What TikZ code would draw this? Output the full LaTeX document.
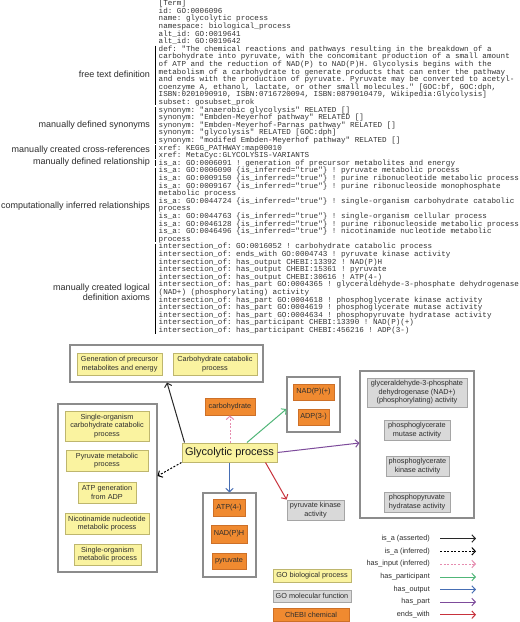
\documentclass[tikz,border=0pt]{standalone}
\usepackage{fontspec}
\setmainfont{Liberation Sans}
\setsansfont{Liberation Sans}
\setmonofont{Liberation Mono}
\usetikzlibrary{arrows.meta}
\definecolor{yfill}{RGB}{250,243,160}
\definecolor{ydraw}{RGB}{190,182,110}
\definecolor{ofill}{RGB}{240,138,48}
\definecolor{odraw}{RGB}{205,112,40}
\definecolor{gfill}{RGB}{217,217,217}
\definecolor{gdraw}{RGB}{165,165,165}
\definecolor{boxdraw}{RGB}{140,140,140}
\definecolor{txt}{RGB}{45,45,45}
\definecolor{cpink}{RGB}{230,140,175}
\definecolor{cgreen}{RGB}{80,182,120}
\definecolor{cblue}{RGB}{70,110,180}
\definecolor{cpurple}{RGB}{125,75,155}
\definecolor{cred}{RGB}{200,50,60}
\definecolor{cdark}{RGB}{40,40,40}
\tikzset{
  nbase/.style={rectangle, inner sep=0pt, align=center, text=txt,
    font=\sffamily\fontsize{7.3}{8.4}\selectfont, line width=0.8pt},
  bp/.style={nbase, fill=yfill, draw=ydraw},
  mf/.style={nbase, fill=gfill, draw=gdraw},
  chem/.style={nbase, fill=ofill, draw=odraw},
  grp/.style={rectangle, draw=boxdraw, line width=1.1pt, fill=white, inner sep=0pt},
  relarr/.style={line width=1pt, -{Straight Barb[length=3.5pt,width=7.5pt]}},
  isaA/.style={relarr, draw=cdark},
  isaI/.style={relarr, draw=black, dash pattern=on 2pt off 1.6pt},
  hasin/.style={relarr, draw=cpink, dash pattern=on 2pt off 1.6pt},
  haspt/.style={relarr, draw=cgreen},
  hasout/.style={relarr, draw=cblue},
  haspart/.style={relarr, draw=cpurple},
  endsw/.style={relarr, draw=cred},
  lbl/.style={anchor=east, inner sep=0pt, font=\sffamily\fontsize{9}{10}\selectfont, text=txt, align=right},
  leg/.style={anchor=east, inner sep=0pt, font=\sffamily\fontsize{7.3}{8.4}\selectfont, text=txt},
  sidebar/.style={line width=1.6pt, draw=black},
}
\begin{document}
\begin{tikzpicture}[x=1pt,y=-1pt]
\useasboundingbox (0,0) rectangle (520,622);
\fill[white] (0,0) rectangle (520,622);

% OBO stanza text
\node[anchor=base west, inner sep=0pt, text=black!80] (obo) at (158.5,5.6) {\begin{minipage}[t]{370pt}\ttfamily\fontsize{7.6}{7.6}\selectfont\lineskiplimit=-20pt\raggedright
[Term]\\
id: GO:0006096\\
name: glycolytic process\\
namespace: biological\_process\\
alt\_id: GO:0019641\\
alt\_id: GO:0019642\\
def: "The chemical reactions and pathways resulting in the breakdown of a\\
carbohydrate into pyruvate, with the concomitant production of a small amount\\
of ATP and the reduction of NAD(P) to NAD(P)H. Glycolysis begins with the\\
metabolism of a carbohydrate to generate products that can enter the pathway\\
and ends with the production of pyruvate. Pyruvate may be converted to acetyl-\\
coenzyme A, ethanol, lactate, or other small molecules." [GOC:bf, GOC:dph,\\
ISBN:0201090910, ISBN:0716720094, ISBN:0879010479, Wikipedia:Glycolysis]\\
subset: gosubset\_prok\\
synonym: "anaerobic glycolysis" RELATED []\\
synonym: "Embden-Meyerhof pathway" RELATED []\\
synonym: "Embden-Meyerhof-Parnas pathway" RELATED []\\
synonym: "glycolysis" RELATED [GOC:dph]\\
synonym: "modifed Embden-Meyerhof pathway" RELATED []\\
xref: KEGG\_PATHWAY:map00010\\
xref: MetaCyc:GLYCOLYSIS-VARIANTS\\
is\_a: GO:0006091 ! generation of precursor metabolites and energy\\
is\_a: GO:0006090 \{is\_inferred="true"\} ! pyruvate metabolic process\\
is\_a: GO:0009150 \{is\_inferred="true"\} ! purine ribonucleotide metabolic process\\
is\_a: GO:0009167 \{is\_inferred="true"\} ! purine ribonucleoside monophosphate\\
metabolic process\\
is\_a: GO:0044724 \{is\_inferred="true"\} ! single-organism carbohydrate catabolic\\
process\\
is\_a: GO:0044763 \{is\_inferred="true"\} ! single-organism cellular process\\
is\_a: GO:0046128 \{is\_inferred="true"\} ! purine ribonucleoside metabolic process\\
is\_a: GO:0046496 \{is\_inferred="true"\} ! nicotinamide nucleotide metabolic\\
process\\
intersection\_of: GO:0016052 ! carbohydrate catabolic process\\
intersection\_of: ends\_with GO:0004743 ! pyruvate kinase activity\\
intersection\_of: has\_output CHEBI:13392 ! NAD(P)H\\
intersection\_of: has\_output CHEBI:15361 ! pyruvate\\
intersection\_of: has\_output CHEBI:30616 ! ATP(4-)\\
intersection\_of: has\_part GO:0004365 ! glyceraldehyde-3-phosphate dehydrogenase\\
(NAD+) (phosphorylating) activity\\
intersection\_of: has\_part GO:0004618 ! phosphoglycerate kinase activity\\
intersection\_of: has\_part GO:0004619 ! phosphoglycerate mutase activity\\
intersection\_of: has\_part GO:0004634 ! phosphopyruvate hydratase activity\\
intersection\_of: has\_participant CHEBI:13390 ! NAD(P)(+)\\
intersection\_of: has\_participant CHEBI:456216 ! ADP(3-)
\end{minipage}};

% side bars
\draw[sidebar] (155.5,45.5) -- (155.5,105.3);
\draw[sidebar] (155.5,106.8) -- (155.5,143.5);
\draw[sidebar] (155.5,145) -- (155.5,158.5);
\draw[sidebar] (155.5,160) -- (155.5,166);
\draw[sidebar] (155.5,167.5) -- (155.5,242);
\draw[sidebar] (155.5,243.5) -- (155.5,333.5);

% side labels
\node[lbl] (l1) at (150,74) {free text definition};
\node[lbl] (l2) at (150,125) {manually defined synonyms};
\node[lbl] (l3) at (150,150) {manually created cross-references};
\node[lbl] (l4) at (150,162.5) {manually defined relationship};
\node[lbl] (l5) at (150,206) {computationally inferred relationships};
\node[lbl] (l6) at (150,292.5) {manually created logical\\definition axioms};

% group boxes
\node[grp, minimum width=193pt, minimum height=37pt] (box1) at (166.5,363.5) {};
\node[grp, minimum width=53pt, minimum height=55pt] (nadbox) at (313.5,404.5) {};
\node[grp, minimum width=114pt, minimum height=147pt] (rbox) at (417,444.5) {};
\node[grp, minimum width=53pt, minimum height=84pt] (outbox) at (229.5,535) {};
\node[grp, minimum width=99pt, minimum height=168pt] (lbox) at (107.5,488) {};

% box1 contents
\node[bp, minimum width=85pt, minimum height=22pt] (gen) at (119.5,364) {Generation of precursor\\metabolites and energy};
\node[bp, minimum width=84pt, minimum height=22pt] (carbcat) at (215,364) {Carbohydrate catabolic\\process};

% carbohydrate
\node[chem, minimum width=50pt, minimum height=17pt] (carb) at (230,406.5) {carbohydrate};

% participants
\node[chem, minimum width=41pt, minimum height=16pt] (nadp) at (313.5,392) {NAD(P)(+)};
\node[chem, minimum width=31pt, minimum height=16pt] (adp) at (313.5,417) {ADP(3-)};

% parts
\node[mf, minimum width=100pt, minimum height=29pt] (gapdh) at (417,392.5) {glyceraldehyde-3-phosphate\\dehydrogenase (NAD+)\\(phosphorylating) activity};
\node[mf, minimum width=66pt, minimum height=20pt] (pgm) at (417,430) {phosphoglycerate\\mutase activity};
\node[mf, minimum width=63pt, minimum height=20pt] (pgk) at (417.5,466) {phosphoglycerate\\kinase activity};
\node[mf, minimum width=66pt, minimum height=20pt] (eno) at (417,502) {phosphopyruvate\\hydratase activity};

% central node
\node[bp, font=\sffamily\fontsize{11}{13}\selectfont, text=black!90, minimum width=95pt, minimum height=19pt, line width=1pt] (glyc) at (229.5,452.5) {Glycolytic process};

% ends_with target
\node[mf, minimum width=57pt, minimum height=20pt] (pk) at (315.5,510) {pyruvate kinase\\activity};

% outputs
\node[chem, minimum width=32pt, minimum height=17pt] (atp) at (229,507.5) {ATP(4-)};
\node[chem, minimum width=36pt, minimum height=18pt] (nadph) at (229,534) {NAD(P)H};
\node[chem, minimum width=34pt, minimum height=16pt] (pyr) at (229,561) {pyruvate};

% inferred parents
\node[bp, minimum width=84pt, minimum height=30pt] (socc) at (107,426) {Single-organism\\carbohydrate catabolic\\process};
\node[bp, minimum width=82pt, minimum height=21pt] (pmp) at (107,460.5) {Pyruvate metabolic\\process};
\node[bp, minimum width=58pt, minimum height=21pt] (atpg) at (107,492.5) {ATP generation\\from ADP};
\node[bp, minimum width=84pt, minimum height=21pt] (nnmp) at (107,523.5) {Nicotinamide nucleotide\\metabolic process};
\node[bp, minimum width=67pt, minimum height=21pt] (somp) at (107.5,554.5) {Single-organism\\metabolic process};

% relations
\draw[isaA] ([xshift=3pt]glyc.north west) -- ([xshift=0.5pt]box1.south);
\draw[isaI] (glyc.south west) -- ([yshift=12pt]lbox.east);
\draw[hasin] ([xshift=0.5pt]glyc.north) -- (carb.south);
\draw[haspt] ([xshift=17.5pt]glyc.north) -- ([yshift=-4.5pt]nadbox.west);
\draw[haspart] (glyc.east) -- ([yshift=1.5pt]rbox.west);
\draw[endsw] ([xshift=-12pt]glyc.south east) -- (pk.north west);
\draw[hasout] (glyc.south) -- (outbox.north);

% legend boxes
\node[bp, minimum width=78pt, minimum height=13.5pt] (lgbp) at (312,576) {GO biological process};
\node[mf, minimum width=78pt, minimum height=12.5pt] (lgmf) at (312,596.3) {GO molecular function};
\node[chem, minimum width=76pt, minimum height=13.5pt] (lgch) at (311,615) {ChEBI chemical};

% legend arrows
\foreach \nm/\yy/\st/\tx in {a/538.5/isaA/is\_a (asserted), b/551.3/isaI/is\_a (inferred), c/564/hasin/has\_input (inferred), d/577/haspt/has\_participant, e/589.5/hasout/has\_output, f/602/haspart/has\_part, g/614.7/endsw/ends\_with}{
  \node[leg] (lt\nm) at (430,\yy) {\tx};
  \coordinate (ls\nm) at (440,\yy);
  \coordinate (le\nm) at (476,\yy);
  \draw[\st] (ls\nm) -- (le\nm);
}
\end{tikzpicture}
\end{document}
